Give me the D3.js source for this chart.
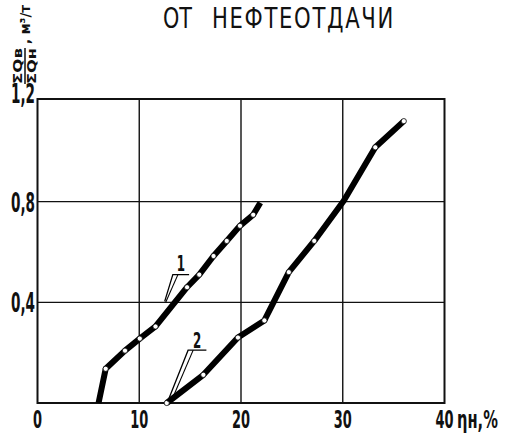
<!DOCTYPE html>
<html>
<head>
<meta charset="utf-8">
<script src="https://cdn.jsdelivr.net/npm/d3@7"></script>
<style>
  body { margin: 0; background: #fff; }
  text { fill: #111; font-family: "DejaVu Sans Condensed", "DejaVu Sans", sans-serif; }
</style>
</head>
<body>
<div id="vis"></div>
<script>
// curve values (x = oil recovery %, y = water/oil ratio)
var curve1X = [6.0, 6.7, 8.6, 10.05, 11.6, 14.7, 15.9, 17.3, 18.6, 19.9, 21.2, 21.9],
    curve1Y = [0.0, 0.136, 0.208, 0.256, 0.304, 0.46, 0.51, 0.584, 0.644, 0.704, 0.748, 0.796];
var curve2X = [12.7, 16.3, 19.7, 22.3, 24.7, 27.2, 30.1, 33.2, 36.0],
    curve2Y = [0.0, 0.112, 0.26, 0.328, 0.52, 0.644, 0.804, 1.016, 1.12];
var xTicks = [0, 10, 20, 30, 40],
    yTicks = [0.4, 0.8, 1.2],
    yTickLabels = ["0,4", "0,8", "1,2"];
var titleWords = ["ОТ", "НЕФТЕОТДАЧИ"];

var width = 511, height = 435;

var svg = d3.select("#vis").append("svg")
    .attr("width", width)
    .attr("height", height);

var x = d3.scaleLinear().domain([0, 40]).range([37.5, 444.5]);
var y = d3.scaleLinear().domain([0, 1.2]).range([403, 101]);

// narrow, tall lettering like the stencil text in the scan
function narrow(px, py, sx) {
  return "translate(" + px + "," + py + ") scale(" + sx + ",1)";
}

// title
svg.append("text").attr("x", 163).attr("y", 28)
    .attr("font-size", 28).attr("textLength", 29).attr("lengthAdjust", "spacingAndGlyphs")
    .text(titleWords[0]);
svg.append("text").attr("x", 212).attr("y", 28)
    .attr("font-size", 28).attr("textLength", 183).attr("lengthAdjust", "spacingAndGlyphs")
    .attr("letter-spacing", 2)
    .text(titleWords[1]);

// grid
var grid = svg.append("g").attr("stroke", "#111").attr("fill", "none");
grid.selectAll("line.v")
    .data(xTicks.slice(1, -1))
  .enter().append("line")
    .attr("x1", function(d) { return x(d); })
    .attr("x2", function(d) { return x(d); })
    .attr("y1", y(1.2) - 2).attr("y2", y(0))
    .attr("stroke-width", 1.4);
grid.selectAll("line.h")
    .data(yTicks.slice(0, -1))
  .enter().append("line")
    .attr("y1", function(d) { return y(d); })
    .attr("y2", function(d) { return y(d); })
    .attr("x1", x(0)).attr("x2", x(40))
    .attr("stroke-width", 1.4);

// frame
grid.append("rect")
    .attr("x", x(0)).attr("y", y(1.2) - 2)
    .attr("width", x(40) - x(0)).attr("height", y(0) - y(1.2) + 2)
    .attr("stroke-width", 2);

// x tick labels
svg.selectAll("text.xt")
    .data(xTicks)
  .enter().append("text")
    .attr("transform", function(d) { return narrow(x(d), 428, 0.6); })
    .attr("text-anchor", "middle")
    .attr("font-size", 24).attr("font-weight", "bold")
    .text(function(d) { return d; });

svg.append("text").attr("transform", narrow(457, 428, 0.68))
    .attr("font-size", 24).attr("font-weight", "bold")
    .text("ηн,%");

// y tick labels
svg.selectAll("text.yt")
    .data(yTicks)
  .enter().append("text")
    .attr("transform", function(d, i) { return narrow(35, i === 2 ? y(d) + 2 : y(d) + 10, 0.58); })
    .attr("text-anchor", "end")
    .attr("font-size", 26).attr("font-weight", "bold")
    .text(function(d, i) { return yTickLabels[i]; });

// y axis title, rotated fraction
var yt = svg.append("g").attr("transform", "translate(24,84) rotate(-90)");
yt.append("text").attr("x", 0).attr("y", -2)
    .attr("font-size", 12).attr("font-weight", "bold")
    .attr("textLength", 36).attr("lengthAdjust", "spacingAndGlyphs")
    .text("ΣQв");
yt.append("line").attr("x1", 0).attr("x2", 36).attr("y1", 1).attr("y2", 1)
    .attr("stroke", "#111").attr("stroke-width", 1.5);
yt.append("text").attr("x", 0).attr("y", 12)
    .attr("font-size", 12).attr("font-weight", "bold")
    .attr("textLength", 36).attr("lengthAdjust", "spacingAndGlyphs")
    .text("ΣQн");
yt.append("text").attr("x", 40).attr("y", 6)
    .attr("font-size", 14).attr("font-weight", "bold")
    .attr("textLength", 39).attr("lengthAdjust", "spacingAndGlyphs")
    .text(", м³/т");

// curves
var line = d3.line()
    .x(function(d) { return x(d[0]); })
    .y(function(d) { return y(d[1]); });

var series = [d3.zip(curve1X, curve1Y), d3.zip(curve2X, curve2Y)];

svg.selectAll("path.curve")
    .data(series)
  .enter().append("path")
    .attr("class", "curve")
    .attr("d", line)
    .attr("fill", "none")
    .attr("stroke", "#000")
    .attr("stroke-width", 6)
    .attr("stroke-linejoin", "round");

// point markers (curve 1 ends are bare)
var marks = series[0].slice(1, -1).concat(series[1].filter(function(d, i) { return i !== 6; }));
svg.selectAll("circle")
    .data(marks)
  .enter().append("circle")
    .attr("cx", function(d) { return x(d[0]); })
    .attr("cy", function(d) { return y(d[1]); })
    .attr("r", 2.6)
    .attr("fill", "#fff")
    .attr("stroke", "#000")
    .attr("stroke-width", 0.8);

// curve labels with leaders (in data units)
var leaders = [
  { label: "1", tx: 14.1, ty: 0.524, bar: [[13.3, 0.51], [14.9, 0.51]], tips: [[12.5, 0.404], [12.6, 0.40]] },
  { label: "2", tx: 15.7, ty: 0.22, bar: [[14.8, 0.21], [16.6, 0.21]], tips: [[12.8, 0.006], [13.2, 0.012]] }
];
leaders.forEach(function(l) {
  svg.append("text").attr("transform", narrow(x(l.tx), y(l.ty), 0.6))
      .attr("text-anchor", "middle")
      .attr("font-size", 22).attr("font-weight", "bold")
      .text(l.label);
  svg.append("path")
      .attr("d", line([l.bar[1], l.bar[0], l.tips[0]]))
      .attr("fill", "none").attr("stroke", "#000").attr("stroke-width", 1.3);
  svg.append("path")
      .attr("d", line([[l.bar[0][0] + 0.5, l.bar[0][1]], l.tips[1]]))
      .attr("fill", "none").attr("stroke", "#000").attr("stroke-width", 1.1);
});
</script>
</body>
</html>
